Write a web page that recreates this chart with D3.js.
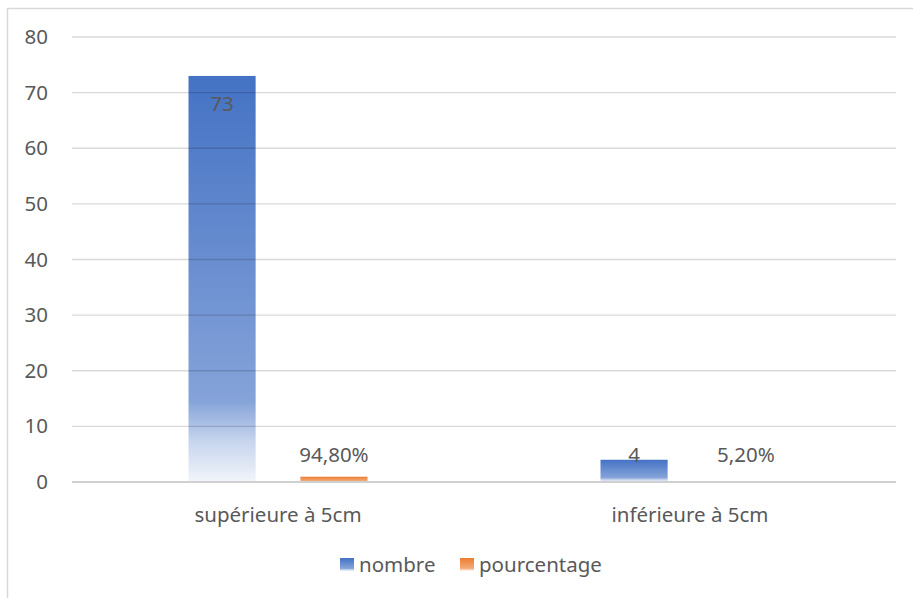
<!DOCTYPE html>
<html>
<head>
<meta charset="utf-8">
<script src="https://cdn.jsdelivr.net/npm/d3@7"></script>
<style>
  body { margin: 0; background: #fff; }
  svg text { font-family: "Noto Sans", sans-serif; fill: #595959; }
</style>
</head>
<body>
<svg id="chart" width="913" height="598"></svg>
<script>
// values
var categories = ["supérieure à 5cm", "inférieure à 5cm"];
var series = ["nombre", "pourcentage"];
var nombre = [73, 4];
var pourcentage = [0.948, 0.052];
var pourcentageLabels = ["94,80%", "5,20%"];
var yTicks = [0, 10, 20, 30, 40, 50, 60, 70, 80];

var colors = { nombre: "#4472C4", pourcentage: "#ED7D31" };
var fontSize = "20.5px";

var margin = {top: 37, right: 17, bottom: 116, left: 72},
    width = 913 - margin.left - margin.right,
    height = 598 - margin.top - margin.bottom;

var svg = d3.select("#chart");

// outer border of the chart area
svg.append("rect")
  .attr("x", 7.5).attr("y", 8.5)
  .attr("width", 920).attr("height", 620)
  .attr("fill", "none")
  .attr("stroke", "#D9D9D9")
  .attr("stroke-width", 1.5);

// gradients fading to white toward the bottom, like the office chart
var defs = svg.append("defs");
series.forEach(function(s) {
  var c = d3.color(colors[s]);
  var g = defs.append("linearGradient")
    .attr("id", "grad-" + s)
    .attr("x1", 0).attr("y1", 0).attr("x2", 0).attr("y2", 1);
  g.append("stop").attr("offset", "0%").attr("stop-color", c.formatHex());
  g.append("stop").attr("offset", "80%").attr("stop-color", d3.interpolateRgb(c, "#fff")(0.35));
  g.append("stop").attr("offset", "90%").attr("stop-color", d3.interpolateRgb(c, "#fff")(0.7));
  g.append("stop").attr("offset", "100%").attr("stop-color", d3.interpolateRgb(c, "#fff")(0.93));
});

var plot = svg.append("g").attr("transform", "translate(" + margin.left + "," + margin.top + ")");

var x0 = d3.scaleBand().domain(categories).range([0, width]);
var x1 = d3.scaleBand().domain(series).range([-89.5, 89.5]).paddingInner(0.4);
var y = d3.scaleLinear().domain([0, 80]).range([height, 0]);

// rows built from the arrays
var rows = categories.map(function(c, i) {
  return [
    {cat: c, s: "nombre", v: nombre[i], label: String(nombre[i])},
    {cat: c, s: "pourcentage", v: pourcentage[i], label: pourcentageLabels[i]}
  ];
});

var groups = plot.selectAll("g.cat")
  .data(rows)
  .enter()
  .append("g")
  .attr("class", "cat")
  .attr("transform", function(d) { return "translate(" + (x0(d[0].cat) + x0.bandwidth() / 2) + ",0)"; });

groups.selectAll("rect")
  .data(function(d) { return d; })
  .enter()
  .append("rect")
  .attr("x", function(d) { return x1(d.s); })
  .attr("y", function(d) { return y(d.v); })
  .attr("width", x1.bandwidth())
  .attr("height", function(d) { return y(0) - y(d.v); })
  .attr("fill", function(d) { return "url(#grad-" + d.s + ")"; });

// gridlines on top, faint so they show through the bars
plot.append("g")
  .selectAll("line")
  .data(yTicks.filter(function(t) { return t > 0; }))
  .enter()
  .append("line")
  .attr("x1", 0).attr("x2", width)
  .attr("y1", function(d) { return y(d); })
  .attr("y2", function(d) { return y(d); })
  .attr("stroke", "#000")
  .attr("stroke-opacity", 0.15)
  .attr("stroke-width", 1.3);

plot.append("line")
  .attr("x1", 0).attr("x2", width)
  .attr("y1", y(0)).attr("y2", y(0))
  .attr("stroke", "#D0D0D0")
  .attr("stroke-width", 2);

// y axis labels
var yAxis = d3.axisLeft(y).tickValues(yTicks).tickSize(0).tickPadding(24);
var ya = plot.append("g").call(yAxis);
ya.select(".domain").remove();
ya.selectAll("text")
  .style("font-family", "'Noto Sans', sans-serif")
  .style("font-size", fontSize)
  .attr("fill", "#595959");

// x axis labels
var xAxis = d3.axisBottom(x0).tickSize(0).tickPadding(25);
var xa = plot.append("g").attr("transform", "translate(0," + height + ")").call(xAxis);
xa.select(".domain").remove();
xa.selectAll("text")
  .style("font-family", "'Noto Sans', sans-serif")
  .style("font-size", fontSize)
  .attr("fill", "#595959");

// data labels: tall bars get the label inside, the rest sit just above the axis
groups.selectAll("text.val")
  .data(function(d) { return d; })
  .enter()
  .append("text")
  .attr("class", "val")
  .attr("text-anchor", "middle")
  .attr("x", function(d) { return x1(d.s) + x1.bandwidth() / 2; })
  .attr("y", function(d) {
    var h = y(0) - y(d.v);
    if (d.s === "nombre" && h > 40) return y(d.v) + 35;
    return Math.min(y(d.v) - 15, y(0) - 20) + (d.s === "nombre" ? 0 : 0);
  })
  .attr("dy", function(d) {
    var h = y(0) - y(d.v);
    return (d.s === "nombre" && h <= 40) ? (y(0) - 20 - (y(d.v) - 15)) : 0;
  })
  .style("font-size", fontSize)
  .text(function(d) { return d.label; });

// legend
var legend = svg.append("g").attr("transform", "translate(340,558)");
var legendX = [0, 120];
series.forEach(function(s, i) {
  legend.append("rect")
    .attr("x", legendX[i]).attr("y", 0)
    .attr("width", 14).attr("height", 13)
    .attr("fill", "url(#grad-" + s + ")");
  legend.append("text")
    .attr("x", legendX[i] + 19).attr("y", 14)
    .style("font-size", fontSize)
    .text(s);
});
</script>
</body>
</html>
